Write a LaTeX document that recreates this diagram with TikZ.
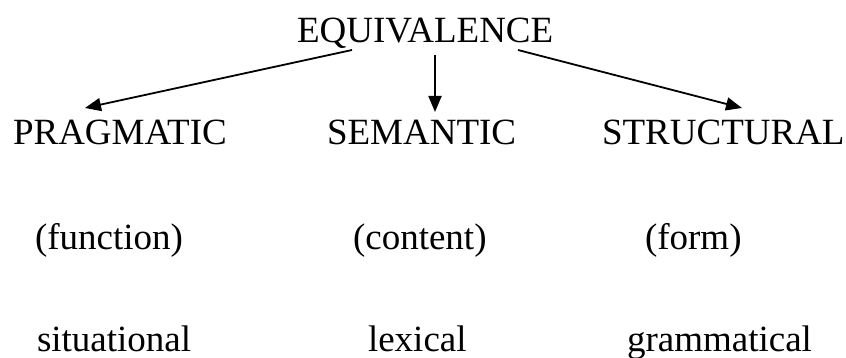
\documentclass[tikz,border=0pt]{standalone}
\usepackage{fontspec}
\setmainfont{Liberation Serif}
\usepackage{tikz}
\usetikzlibrary{arrows.meta,positioning}
\tikzset{
  eq/label/.style={inner sep=0pt, outer sep=0pt, anchor=base west, font=\fontsize{37}{40}\selectfont},
  eq/arr/.style={-{Triangle[length=16pt,width=13pt]}, line width=1.8pt}
}

\begin{document}
\begin{tikzpicture}[x=1pt, y=-1pt]
  \useasboundingbox (0,0) rectangle (846,358);
  \node[eq/label] (equiv) at (297,43) {EQUIVALENCE};

  \node[eq/label] (prag) at (13,145) {PRAGMATIC};
  \node[eq/label] (sem) at (327,145) {SEMANTIC};
  \node[eq/label] (struct) at (602,145) {STRUCTURAL};

  \node[eq/label] (func) at (35,249) {(function)};
  \node[eq/label] (cont) at (353,249) {(content)};
  \node[eq/label] (form) at (645,249) {(form)};

  \node[eq/label] (situ) at (37,351) {situational};
  \node[eq/label] (lex) at (368,351) {lexical};
  \node[eq/label] (gram) at (627,351) {grammatical};

  \draw[eq/arr] ([shift={(55,7)}]equiv.base west) -- ([shift={(72,-37)}]prag.base west);
  \draw[eq/arr] ([shift={(138,12)}]equiv.base west) -- ([shift={(108,-33)}]sem.base west);
  \draw[eq/arr] ([shift={(221,7)}]equiv.base west) -- ([shift={(140,-37)}]struct.base west);
\end{tikzpicture}
\end{document}
